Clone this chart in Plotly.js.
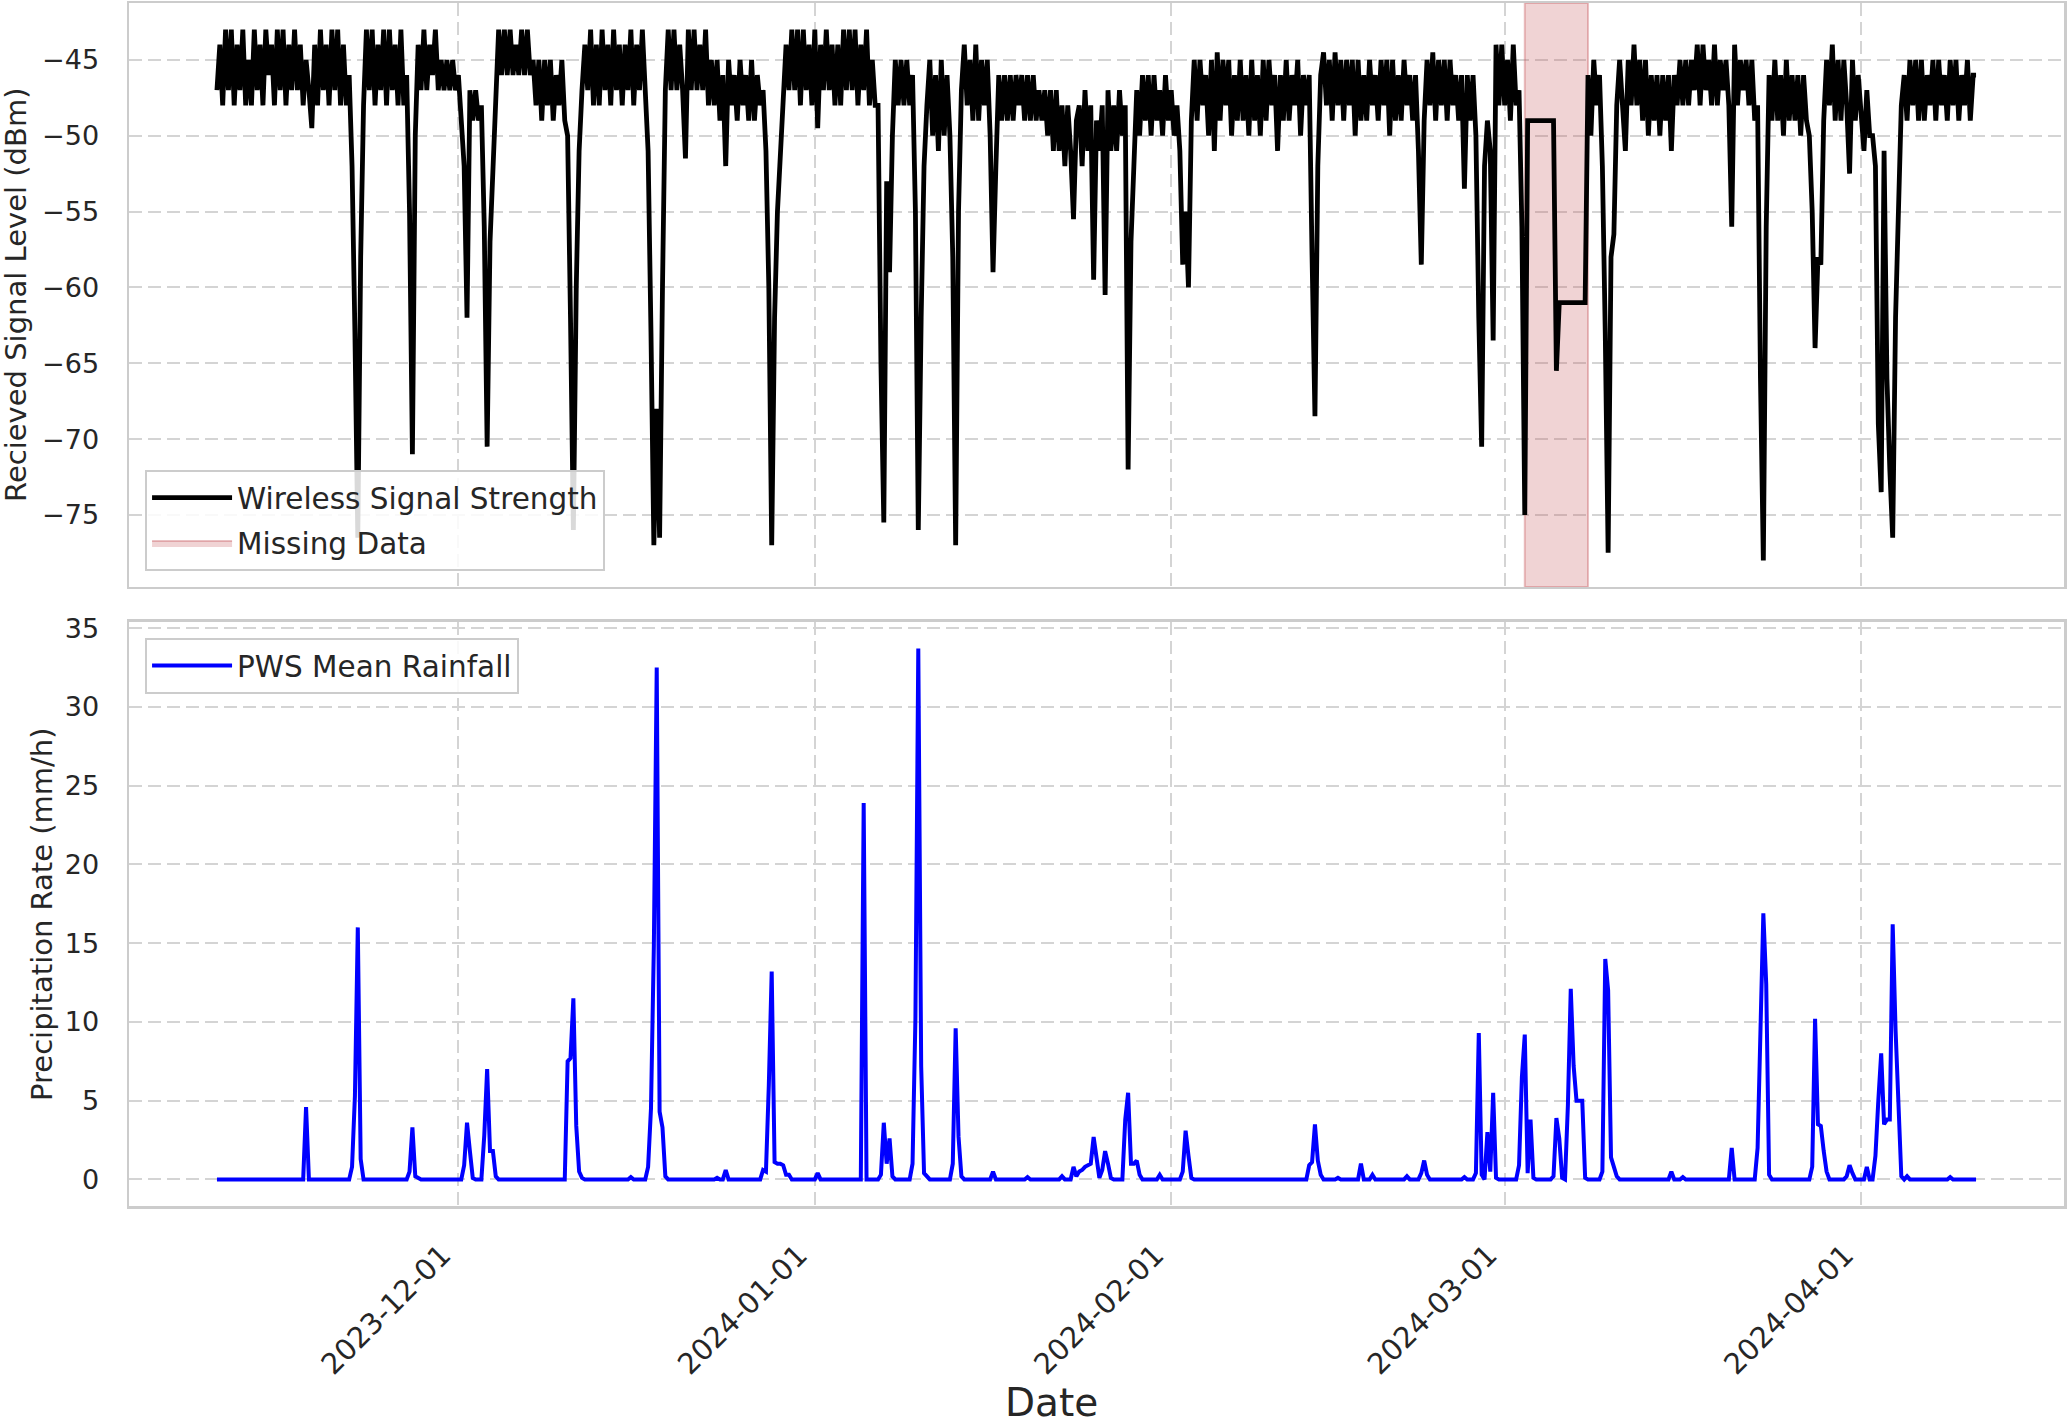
<!DOCTYPE html>
<html>
<head>
<meta charset="utf-8">
<script src="https://cdn.plot.ly/plotly-3.0.1.min.js"></script>
<style>
  body { margin: 0; background: #fff; }
  #chart { width: 2067px; height: 1424px; }
</style>
</head>
<body>
<div id="chart"></div>
<script>
// both series are sampled every 6 hours starting here
var startTime = '2023-11-10T00:00:00Z';
var stepHours = 6;

// received signal level (dBm), one line per day: 00h, 06h, 12h, 18h
var signalLevel = [
  // November 2023 (from the 10th)
  -47, -44, -48, -43,
  -47, -43, -48, -44,
  -47, -43, -48, -45,
  -48, -43, -47, -44,
  -48, -43, -46, -44,
  -48, -43, -47, -43,
  -48, -44, -47, -43,
  -47, -44, -48, -45,
  -47, -49.5, -44, -48,
  -43, -47, -44, -48,
  -43, -47, -43, -48,
  -44, -48, -46, -52,
  -63, -76.5, -58, -48,
  -43, -47, -43, -48,
  -44, -47, -43, -48,
  -43, -47, -44, -48,
  -43, -48, -46, -55,
  -71, -50, -44, -47,
  -43, -47, -44, -46,
  -43, -47, -45, -47,
  -45, -47, -45, -47,
  // December
  -46, -49, -52, -62,
  -47, -49, -47, -49,
  -48, -56, -70.5, -57,
  -52, -47, -43, -46,
  -43, -46, -43, -46,
  -44, -46, -43, -46,
  -43, -46, -45, -48,
  -45, -49, -45, -48,
  -45, -49, -46, -48,
  -45, -49, -50, -62,
  -76, -60, -51, -47,
  -44, -47, -43, -48,
  -44, -48, -43, -47,
  -44, -48, -43, -47,
  -44, -48, -44, -47,
  -43, -48, -44, -47,
  -43, -47, -51, -63,
  -77, -68, -76.5, -60,
  -47, -43, -47, -43,
  -47, -44, -47, -51.5,
  -43, -47, -43, -47,
  -44, -47, -43, -48,
  -45, -48, -45, -49,
  -46, -52, -45, -48,
  -46, -49, -45, -48,
  -46, -49, -45, -49,
  -46, -48, -47, -51,
  -60, -77, -62, -55,
  -51.5, -47, -44, -47,
  -43, -47, -43, -48,
  -43, -47, -44, -48,
  // January 2024
  -43, -49.5, -44, -47,
  -43, -47, -44, -48,
  -44, -48, -43, -47,
  -43, -47, -43, -48,
  -44, -47, -43, -48,
  -45, -48, -48, -65,
  -75.5, -53, -59, -50,
  -45, -48, -45, -48,
  -45, -48, -46, -55,
  -76, -62, -52, -48,
  -45, -50, -46, -51,
  -45, -50, -46, -50,
  -58, -77, -55, -47,
  -44, -48, -45, -49,
  -44, -49, -45, -48,
  -45, -50, -59, -52,
  -46, -49, -46, -49,
  -46, -49, -46, -48,
  -46, -49, -46, -49,
  -46, -49, -47, -49,
  -47, -50, -47, -51,
  -47, -51, -48, -52,
  -48, -51, -55.5, -49,
  -48, -52, -47, -51,
  -48, -59.5, -49, -51,
  -48, -60.5, -47, -51,
  -48, -51, -47, -50,
  -48, -72, -57, -52,
  -47, -50, -46, -49,
  -46, -50, -46, -49,
  -47, -50, -46, -49,
  // February
  -47, -50, -48, -51,
  -58.5, -55, -60, -49,
  -45, -49, -45, -48,
  -46, -50, -45, -51,
  -44.5, -49, -45, -48,
  -45, -50, -46, -49,
  -45, -49, -46, -50,
  -45, -49, -46, -50,
  -45, -49, -45, -48,
  -46, -51, -46, -49,
  -45, -49, -46, -48,
  -45, -50, -46, -48,
  -46, -58, -68.5, -52,
  -46, -44.5, -48, -45,
  -49, -44.5, -48, -45,
  -49, -45, -48, -45,
  -50, -45, -49, -46,
  -49, -45, -48, -46,
  -49, -45, -48, -45,
  -50, -45, -49, -46,
  -49, -45, -48, -46,
  -49, -46, -51, -58.5,
  -49, -45, -48, -44.5,
  -49, -45, -48, -45,
  -49, -45, -48, -46,
  -49, -46, -53.5, -46,
  -49, -46, -50, -62,
  -70.5, -52, -49, -51,
  -63.5, -44, -48, -44,
  // March
  -48, -45, -49, -44,
  -48, -47, -56, -75,
  -49, -49, -49, -49,
  -49, -49, -49, -49,
  -49, -49, -65.5, -61,
  -61, -61, -61, -61,
  -61, -61, -61, -61,
  -61, -46, -50, -45,
  -48, -46, -52, -63,
  -77.5, -58, -56.5, -48,
  -45, -48, -51, -45,
  -48, -44, -48, -45,
  -49, -45, -50, -46,
  -49, -46, -50, -46,
  -49, -46, -51, -46,
  -48, -45, -48, -45,
  -48, -45, -47, -44,
  -48, -44, -47, -45,
  -48, -44, -48, -45,
  -47, -45, -48, -56,
  -44, -48, -45, -47,
  -45, -48, -45, -49,
  -48, -66, -78, -56,
  -46, -49, -45, -49,
  -46, -50, -45, -49,
  -46, -49, -46, -50,
  -46, -49, -50, -55,
  -64, -58, -58.5, -49,
  -45, -48, -44, -49,
  -45, -49, -45, -48,
  -52.5, -45, -49, -46,
  // April
  -49, -51, -47, -50,
  -50, -52, -69, -73.5,
  -51, -66, -72, -76.5,
  -62, -55, -48, -46,
  -49, -45, -48, -45,
  -49, -45, -49, -46,
  -48, -45, -49, -45,
  -48, -46, -49, -45,
  -48, -45, -49, -46,
  -48, -45, -49, -46,
  -46
];

// PWS mean rainfall (mm/h), same sampling
var rainRate = [
  // November 2023 (from the 10th)
  0, 0, 0, 0,
  0, 0, 0, 0,
  0, 0, 0, 0,
  0, 0, 0, 0,
  0, 0, 0, 0,
  0, 0, 0, 0,
  0, 0, 0, 0,
  0, 0, 0, 4.6,
  0, 0, 0, 0,
  0, 0, 0, 0,
  0, 0, 0, 0,
  0, 0, 0, 0.8,
  5.3, 16.0, 1.3, 0,
  0, 0, 0, 0,
  0, 0, 0, 0,
  0, 0, 0, 0,
  0, 0, 0, 0.5,
  3.3, 0.2, 0.1, 0,
  0, 0, 0, 0,
  0, 0, 0, 0,
  0, 0, 0, 0,
  // December
  0, 0, 0.9, 3.6,
  1.8, 0.1, 0, 0,
  0, 2.8, 7.0, 1.8,
  1.8, 0.2, 0, 0,
  0, 0, 0, 0,
  0, 0, 0, 0,
  0, 0, 0, 0,
  0, 0, 0, 0,
  0, 0, 0, 0,
  0, 0, 7.5, 7.7,
  11.5, 3.4, 0.5, 0.1,
  0, 0, 0, 0,
  0, 0, 0, 0,
  0, 0, 0, 0,
  0, 0, 0, 0,
  0.15, 0, 0, 0,
  0, 0, 0.8, 4.5,
  14.8, 32.5, 4.3, 3.3,
  0.2, 0, 0, 0,
  0, 0, 0, 0,
  0, 0, 0, 0,
  0, 0, 0, 0,
  0, 0, 0.1, 0,
  0, 0.6, 0, 0,
  0, 0, 0, 0,
  0, 0, 0, 0,
  0, 0, 0.6, 0.5,
  6.0, 13.2, 1.1, 1.0,
  1.0, 0.9, 0.3, 0.3,
  0, 0, 0, 0,
  0, 0, 0, 0,
  // January 2024
  0, 0.4, 0, 0,
  0, 0, 0, 0,
  0, 0, 0, 0,
  0, 0, 0, 0,
  0, 23.9, 0, 0,
  0, 0, 0, 0.3,
  3.6, 1.0, 2.6, 0.2,
  0, 0, 0, 0,
  0, 0, 1.0, 10.2,
  33.7, 7.2, 0.4, 0.2,
  0, 0, 0, 0,
  0, 0, 0, 0,
  1.0, 9.6, 2.7, 0.2,
  0, 0, 0, 0,
  0, 0, 0, 0,
  0, 0, 0.5, 0,
  0, 0, 0, 0,
  0, 0, 0, 0,
  0, 0, 0.15, 0,
  0, 0, 0, 0,
  0, 0, 0, 0,
  0, 0, 0.2, 0,
  0, 0, 0.8, 0.2,
  0.5, 0.6, 0.8, 0.9,
  1.0, 2.7, 1.4, 0.1,
  0.6, 1.8, 1.0, 0.1,
  0, 0, 0, 0,
  3.8, 5.5, 1.0, 1.0,
  1.2, 0.3, 0, 0,
  0, 0, 0, 0,
  0.3, 0, 0, 0,
  // February
  0, 0, 0, 0,
  0.5, 3.1, 1.5, 0.1,
  0, 0, 0, 0,
  0, 0, 0, 0,
  0, 0, 0, 0,
  0, 0, 0, 0,
  0, 0, 0, 0,
  0, 0, 0, 0,
  0, 0, 0, 0,
  0, 0, 0, 0,
  0, 0, 0, 0,
  0, 0, 0, 0,
  0.9, 1.1, 3.5, 1.2,
  0.3, 0, 0, 0,
  0, 0, 0.1, 0,
  0, 0, 0, 0,
  0, 0, 1.0, 0,
  0, 0, 0.3, 0,
  0, 0, 0, 0,
  0, 0, 0, 0,
  0, 0, 0.2, 0,
  0, 0, 0, 0.4,
  1.2, 0.3, 0, 0,
  0, 0, 0, 0,
  0, 0, 0, 0,
  0, 0, 0.15, 0,
  0, 0, 0.4, 9.3,
  0.3, 0, 3.0, 0.5,
  5.5, 0.1, 0, 0,
  // March
  0, 0, 0, 0,
  0, 0.9, 6.5, 9.2,
  0.4, 3.8, 0.1, 0,
  0, 0, 0, 0,
  0, 0.2, 3.9, 2.6,
  0.1, 0, 4.7, 12.1,
  7.2, 5.0, 5.0, 5.0,
  0.1, 0, 0, 0,
  0, 0, 0.5, 14.0,
  12.0, 1.4, 0.8, 0.2,
  0, 0, 0, 0,
  0, 0, 0, 0,
  0, 0, 0, 0,
  0, 0, 0, 0,
  0, 0, 0.5, 0,
  0, 0, 0.15, 0,
  0, 0, 0, 0,
  0, 0, 0, 0,
  0, 0, 0, 0,
  0, 0, 0, 2.0,
  0, 0, 0, 0,
  0, 0, 0, 0,
  2.0, 10.6, 16.9, 12.4,
  0.3, 0, 0, 0,
  0, 0, 0, 0,
  0, 0, 0, 0,
  0, 0, 0, 0.8,
  10.2, 3.5, 3.4, 1.8,
  0.5, 0, 0, 0,
  0, 0, 0, 0.2,
  0.9, 0.4, 0, 0,
  // April
  0, 0, 0.8, 0,
  0, 1.5, 5.0, 8.0,
  3.5, 3.8, 3.8, 16.2,
  9.5, 4.0, 0.2, 0,
  0.2, 0, 0, 0,
  0, 0, 0, 0,
  0, 0, 0, 0,
  0, 0, 0, 0.15,
  0, 0, 0, 0,
  0, 0, 0, 0,
  0
];

// gap in the link record
var missingStart = '2024-03-02 18:00';
var missingEnd = '2024-03-08 06:00';

var monthTicks = ['2023-12-01', '2024-01-01', '2024-02-01', '2024-03-01', '2024-04-01'];
var xRange = ['2023-11-02 08:24', '2024-04-18 15:36'];
var signalRange = [-79.75, -41.25];
var rainRange = [-1.685, 35.39];

function sampleTimes(n) {
  var t0 = Date.parse(startTime);
  var out = [];
  for (var i = 0; i < n; i++) {
    out.push(new Date(t0 + i * stepHours * 3600000).toISOString().slice(0, 16).replace('T', ' '));
  }
  return out;
}

// pink band over the gap, spanning the whole top panel
var missingTrace = {
  x: [missingStart, missingStart, missingEnd, missingEnd, missingStart],
  y: [signalRange[0], signalRange[1], signalRange[1], signalRange[0], signalRange[0]],
  type: 'scatter',
  mode: 'lines',
  fill: 'toself',
  fillcolor: 'rgba(196,78,82,0.25)',
  line: {color: 'rgba(196,78,82,0.35)', width: 2},
  name: 'Missing Data',
  xaxis: 'x2',
  yaxis: 'y2',
  legend: 'legend',
  legendgroup: 'miss',
  legendrank: 2
};

var signalTrace = {
  x: sampleTimes(signalLevel.length),
  y: signalLevel,
  type: 'scatter',
  mode: 'lines',
  name: 'Wireless Signal Strength',
  line: {color: '#000000', width: 4.8},
  xaxis: 'x2',
  yaxis: 'y2',
  legend: 'legend',
  legendgroup: 'sig',
  legendrank: 1
};

var rainTrace = {
  x: sampleTimes(rainRate.length),
  y: rainRate,
  type: 'scatter',
  mode: 'lines',
  name: 'PWS Mean Rainfall',
  line: {color: '#0000ff', width: 4},
  xaxis: 'x',
  yaxis: 'y',
  legend: 'legend2'
};

var frame = '#cccccc';
var gridStyle = {
  showgrid: true, gridcolor: '#d4d4d4', gridwidth: 2, griddash: '13px,6px',
  showline: true, mirror: true, linecolor: frame, linewidth: 2.5,
  zeroline: false, ticks: ''
};

var tickFont = {family: 'DejaVu Sans', size: 27, color: '#262626'};
var legendBox = {
  x: 0.0083, xanchor: 'left',
  bgcolor: 'rgba(255,255,255,0.85)', bordercolor: frame, borderwidth: 2,
  itemwidth: 80, tracegroupgap: 4,
  font: {family: 'DejaVu Sans', size: 29.5, color: '#262626'}
};

var layout = {
  width: 2067,
  height: 1424,
  margin: {l: 129, r: 3, t: 3, b: 218},
  paper_bgcolor: '#ffffff',
  plot_bgcolor: '#ffffff',
  font: {family: 'DejaVu Sans', color: '#262626'},
  xaxis: Object.assign({}, gridStyle, {
    anchor: 'y', type: 'date', range: xRange,
    tickvals: monthTicks, tickformat: '%Y-%m-%d', tickangle: -45,
    tickfont: {family: 'DejaVu Sans', size: 29, color: '#262626'},
    ticklabelstandoff: 18, ticklabelshift: -16
  }),
  xaxis2: Object.assign({}, gridStyle, {
    anchor: 'y2', type: 'date', matches: 'x', range: xRange,
    tickvals: monthTicks, showticklabels: false
  }),
  yaxis: Object.assign({}, gridStyle, {
    domain: [0, 0.4855], range: rainRange, tick0: 0, dtick: 5,
    tickfont: tickFont, ticklabelstandoff: 22
  }),
  yaxis2: Object.assign({}, gridStyle, {
    domain: [0.5146, 1], range: signalRange, tick0: -45, dtick: 5,
    tickfont: tickFont, ticklabelstandoff: 22
  }),
  legend: Object.assign({}, legendBox, {y: 0.5279, yanchor: 'bottom', traceorder: 'grouped'}),
  legend2: Object.assign({}, legendBox, {y: 0.4722, yanchor: 'top'}),
  annotations: [
    {text: 'Recieved Signal Level (dBm)', xref: 'paper', yref: 'paper', x: -0.0584, y: 0.7573,
     textangle: -90, showarrow: false, xanchor: 'center', yanchor: 'middle',
     font: {family: 'DejaVu Sans', size: 29, color: '#262626'}},
    {text: 'Precipitation Rate (mm/h)', xref: 'paper', yref: 'paper', x: -0.045, y: 0.2427,
     textangle: -90, showarrow: false, xanchor: 'center', yanchor: 'middle',
     font: {family: 'DejaVu Sans', size: 29, color: '#262626'}},
    {text: 'Date', xref: 'paper', yref: 'paper', x: 0.4765, y: -0.163,
     showarrow: false, xanchor: 'center', yanchor: 'middle',
     font: {family: 'DejaVu Sans', size: 39, color: '#262626'}}
  ]
};

Plotly.newPlot('chart', [missingTrace, signalTrace, rainTrace], layout, {displayModeBar: false, staticPlot: true});
</script>
</body>
</html>
